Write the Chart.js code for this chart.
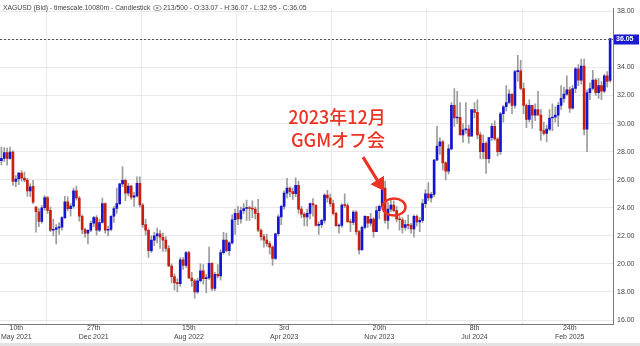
<!DOCTYPE html>
<html><head><meta charset="utf-8">
<script src="https://cdn.jsdelivr.net/npm/chart.js@4.4.1/dist/chart.umd.min.js"></script>
<style>html,body{margin:0;padding:0;background:#fff;overflow:hidden}canvas{display:block}</style>
</head><body>
<canvas id="c" width="640" height="346"></canvas>
<script>
// Weekly XAGUSD candles, week of 10 May 2021 (index 0) to week of 2 Jun 2025 (index 212)
const opens=[27.45,27.36,27.52,27.94,27.51,27.97,25.88,26.05,26.47,26.11,25.97,25.20,25.52,24.05,23.72,23.03,24.00,24.72,23.82,22.40,22.45,22.57,22.62,23.30,24.42,23.93,24.12,25.20,24.70,23.40,22.45,22.20,22.40,22.90,
23.30,22.40,22.95,24.30,22.40,22.45,23.40,23.95,24.30,25.70,25.95,25.05,25.55,24.75,24.85,25.75,24.20,22.80,22.40,20.95,21.70,22.00,22.15,21.90,21.70,21.10,19.85,19.10,18.65,18.60,20.30,19.90,20.80,19.00,18.80,18.00,18.80,19.50,18.95,19.00,20.05,18.25,19.25,19.15,20.80,21.70,20.95,21.50,23.15,23.60,23.20,23.80,
23.95,24.00,23.95,23.90,23.60,22.40,21.95,21.70,21.45,21.20,20.40,22.15,23.35,24.10,25.05,25.40,25.15,25.00,25.60,23.90,23.55,23.35,23.60,24.30,24.20,22.75,22.80,23.10,24.90,24.70,24.30,23.60,22.70,22.75,24.20,24.15,23.00,22.95,23.70,22.30,21.00,22.60,23.40,22.90,23.20,22.30,23.80,24.10,25.40,23.10,23.90,24.20,
23.80,23.20,23.15,22.60,22.80,22.75,22.50,23.40,23.00,23.10,24.30,25.00,24.70,24.95,27.40,28.40,28.70,27.20,26.60,28.20,31.30,30.40,30.45,29.20,29.55,29.60,29.10,31.00,30.80,29.20,28.00,28.60,27.50,29.00,29.80,28.90,28.00,30.70,31.20,31.50,32.10,31.30,33.70,33.75,32.50,31.30,30.30,31.30,30.60,31.00,30.60,29.50,29.30,
29.60,30.40,30.45,30.60,31.30,31.80,32.10,32.40,31.10,32.50,33.90,33.10,34.10,29.60,32.20,32.50,33.10,32.20,32.70,32.30,33.40,33.07];
const highs=[28.33,28.33,28.29,28.26,28.32,28.06,26.30,26.52,26.65,26.55,26.10,25.70,25.95,24.10,23.95,24.15,24.87,24.80,24.05,23.20,22.80,22.95,23.37,24.82,24.78,24.30,25.40,25.55,24.80,23.50,22.55,22.45,23.05,23.40,
23.45,23.20,24.70,24.35,22.70,23.45,24.10,25.40,25.75,26.94,26.05,25.75,25.60,25.10,26.20,26.20,24.30,23.20,22.50,22.00,22.25,22.55,22.40,22.20,21.95,21.30,20.00,19.30,18.95,20.45,20.45,20.90,20.90,19.40,18.90,19.00,20.00,19.95,19.25,21.20,20.10,19.40,19.95,21.00,22.25,22.20,21.60,23.50,23.90,24.10,24.05,24.30,
24.55,24.10,24.50,24.05,24.60,22.50,22.10,22.10,21.60,21.30,22.20,23.50,24.20,25.20,26.10,25.50,25.40,26.14,25.90,24.10,23.65,23.90,24.35,24.65,24.20,23.00,23.20,25.00,25.25,25.00,24.55,23.70,22.85,24.30,25.00,24.30,23.20,23.80,23.80,22.40,22.70,23.45,23.40,23.60,23.30,24.10,24.20,25.50,25.90,24.40,24.60,24.50,
24.10,23.40,23.30,23.10,23.50,22.90,23.50,23.50,23.30,24.60,25.30,25.80,25.10,27.45,29.80,29.00,28.80,27.30,28.50,31.50,32.50,32.30,31.50,30.00,31.50,29.90,31.00,31.50,31.70,29.40,29.20,28.70,29.00,30.00,30.20,29.00,30.80,31.30,32.70,32.40,32.10,33.80,34.87,34.50,32.90,31.40,31.70,31.30,31.40,32.30,31.00,30.10,29.90,
31.00,31.40,31.20,31.50,32.70,32.60,33.40,32.60,32.70,34.00,34.20,34.60,34.60,32.40,32.90,33.80,33.20,33.20,33.00,33.50,33.70,36.07];
const lows=[26.96,27.05,27.30,27.03,27.46,25.60,25.50,25.64,25.90,25.84,24.83,24.80,24.30,22.27,22.65,22.90,23.83,23.60,22.30,22.00,21.42,22.10,22.40,23.20,23.77,23.40,23.95,24.55,23.05,22.15,21.90,21.42,22.30,22.65,
22.05,22.30,22.90,22.20,22.00,22.35,22.95,23.60,24.20,25.50,24.50,24.85,24.60,24.10,24.75,24.05,22.60,22.05,20.46,20.80,21.30,21.50,21.10,20.90,20.90,19.80,18.65,18.15,18.00,18.40,19.60,19.75,18.95,18.40,17.56,17.90,18.70,18.55,17.95,18.90,18.10,18.10,19.00,18.85,20.70,20.85,20.60,21.40,22.10,22.80,22.90,23.60,
23.10,23.10,23.30,23.20,22.30,21.70,21.20,21.25,20.70,19.90,20.30,22.00,22.80,23.90,24.70,24.80,24.60,24.80,23.60,23.30,22.70,22.70,23.20,23.40,22.70,22.10,22.60,22.90,24.40,24.10,23.50,22.70,22.20,22.60,24.00,23.00,22.30,22.80,22.10,20.70,21.00,22.50,22.60,22.70,21.90,22.30,23.20,24.00,22.90,22.50,23.70,23.70,
23.00,22.40,22.20,22.40,22.50,22.20,21.90,22.70,22.30,22.95,24.00,24.50,24.40,24.80,27.40,27.80,26.70,26.00,26.40,28.10,29.80,30.00,29.20,28.65,29.30,28.60,29.10,30.40,28.90,27.50,27.50,26.45,27.20,28.80,28.80,27.70,27.80,30.10,30.90,31.40,30.70,31.10,33.00,32.40,30.70,29.70,30.10,29.65,30.20,30.60,28.80,29.20,28.70,
29.50,29.50,30.10,29.80,31.00,31.50,32.00,30.80,31.00,32.20,32.70,32.80,29.20,28.00,31.70,32.40,32.00,31.80,31.70,32.20,32.60,32.95];
const closes=[27.36,27.52,27.94,27.51,27.97,25.88,26.05,26.47,26.11,25.97,25.20,25.50,24.40,23.72,23.03,24.00,24.72,23.82,22.40,22.45,22.57,22.62,23.30,24.42,23.93,24.12,25.20,24.70,23.40,22.45,22.20,22.40,22.90,23.30,
22.40,22.95,24.30,22.40,22.45,23.40,23.95,24.30,25.70,25.95,25.05,25.55,24.75,24.85,25.75,24.20,22.80,22.40,20.95,21.70,22.00,22.15,21.90,21.70,21.10,19.85,19.10,18.65,18.60,20.30,19.90,20.80,19.00,18.80,18.00,18.80,19.50,18.95,19.00,20.05,18.25,19.25,19.15,20.80,21.70,20.95,21.50,23.15,23.60,23.20,23.80,23.95,
24.00,23.95,23.90,23.60,22.40,21.95,21.70,21.45,21.20,20.40,22.15,23.35,24.10,25.05,25.40,25.15,25.00,25.60,23.90,23.55,23.35,23.60,24.30,24.20,22.75,22.80,23.10,24.90,24.70,24.30,23.60,22.70,22.75,24.20,24.15,23.00,22.95,23.70,22.30,21.00,22.60,23.40,22.90,23.20,22.30,23.80,24.10,25.40,23.10,23.90,24.20,23.80,
23.20,23.15,22.60,22.80,22.75,22.50,23.40,23.00,23.10,24.30,25.00,24.70,24.95,27.40,28.40,28.70,27.20,26.60,28.20,31.30,30.40,30.45,29.20,29.55,29.60,29.10,31.00,30.80,29.20,28.00,28.60,27.50,29.00,29.80,28.90,28.00,30.70,31.20,31.50,32.10,31.30,33.70,33.75,32.50,31.30,30.30,31.30,30.60,31.00,30.60,29.50,29.30,29.60,
30.40,30.45,30.60,31.30,31.80,32.10,32.40,31.10,32.50,33.90,33.10,34.10,29.60,32.20,32.50,33.10,32.20,32.70,32.30,33.40,33.00,36.05];

const tickIndex=[0,33,66,99,132,165,198];
const tickDay=["10th","27th","15th","3rd","20th","8th","24th"];
const tickMonth=["May 2021","Dec 2021","Aug 2022","Apr 2023","Nov 2023","Jul 2024","Feb 2025"];
const lastPrice=36.05;
const titleHead="XAGUSD (Bid) - timescale.10080m - Candlestick";
const titleTail="213/500 - O:33.07 - H:36.07 - L:32.95 - C:36.05";
const noteLines=["2023年12月","GGMオフ会"];
const noteWeek=137.1, notePrice=24.05;

const UP='#1414d2', DOWN='#c8200f', WICK='#9c9c9c', NOTE='#ec3323';
const bodies=opens.map((o,i)=>({x:i,y:[o,closes[i]]}));
const wicks=lows.map((l,i)=>({x:i,y:[l,highs[i]]}));
const bodyColors=opens.map((o,i)=>closes[i]>=o?UP:DOWN);

const overlay={
  id:'overlay',
  afterDraw(chart){
    const {ctx,chartArea:a,scales:{x,y}}=chart;
    ctx.save();
    const yl=Math.round(y.getPixelForValue(lastPrice))+0.5;
    ctx.strokeStyle='#555'; ctx.lineWidth=1; ctx.setLineDash([2,2]);
    ctx.beginPath(); ctx.moveTo(a.left,yl); ctx.lineTo(a.right,yl); ctx.stroke();
    ctx.setLineDash([]);
    ctx.fillStyle='#1a1ad0'; ctx.fillRect(a.right+1,yl-5,25,10);
    ctx.fillStyle='#fff'; ctx.font='bold 7px "Liberation Sans", Arial'; ctx.textBaseline='middle'; ctx.textAlign='left';
    ctx.fillText(lastPrice.toFixed(2),a.right+3,yl);
    ctx.fillStyle='#444'; ctx.font='6.8px "Liberation Sans", Arial'; ctx.textBaseline='middle';
    ctx.fillText(titleHead,3,8);
    let tx=3+ctx.measureText(titleHead).width+3;
    ctx.strokeStyle='#999'; ctx.lineWidth=1;
    ctx.beginPath(); ctx.ellipse(tx+4,8,4,2.6,0,0,Math.PI*2); ctx.stroke();
    ctx.fillStyle='#999'; ctx.beginPath(); ctx.arc(tx+4,8,1.3,0,Math.PI*2); ctx.fill();
    ctx.fillStyle='#444';
    ctx.fillText(titleTail,tx+10,8);
    ctx.fillStyle='#444'; ctx.font='7px "Liberation Sans", Arial'; ctx.textAlign='center';
    tickIndex.forEach((v,i)=>{
      let px=x.getPixelForValue(v);
      const w=Math.max(ctx.measureText(tickDay[i]).width,ctx.measureText(tickMonth[i]).width);
      px=Math.max(px,w/2+1);
      ctx.fillText(tickDay[i],px,a.bottom+4);
      ctx.fillText(tickMonth[i],px,a.bottom+13);
    });
    ctx.fillStyle='#e3e3e3'; ctx.fillRect(0,343,640,3);
    const ex=x.getPixelForValue(noteWeek), ey=y.getPixelForValue(notePrice);
    ctx.strokeStyle=NOTE; ctx.fillStyle=NOTE;
    ctx.lineWidth=2.5;
    ctx.beginPath(); ctx.ellipse(ex,ey,11.5,8.5,0,0,Math.PI*2); ctx.stroke();
    const tipX=ex-10, tipY=ey-16, tailX=ex-31, tailY=ey-50;
    const dx=tipX-tailX, dy=tipY-tailY, L=Math.hypot(dx,dy), ux=dx/L, uy=dy/L;
    const bx=tipX-ux*13, by=tipY-uy*13;
    ctx.lineWidth=3.2; ctx.lineCap='butt';
    ctx.beginPath(); ctx.moveTo(tailX,tailY); ctx.lineTo(bx+ux*2,by+uy*2); ctx.stroke();
    ctx.beginPath(); ctx.moveTo(tipX,tipY); ctx.lineTo(bx-uy*8,by+ux*8); ctx.lineTo(bx+uy*8,by-ux*8); ctx.closePath(); ctx.fill();
    ctx.font='500 18px "Noto Sans CJK JP", sans-serif'; ctx.textAlign='center'; ctx.textBaseline='middle';
    ctx.fillText(noteLines[0],ex-57,ey-90);
    ctx.fillText(noteLines[1],ex-56,ey-67);
    ctx.restore();
  }
};

new Chart(document.getElementById('c'),{
  type:'bar',
  data:{datasets:[
    {data:bodies,backgroundColor:bodyColors,barThickness:2,minBarLength:1,grouped:false,order:0,borderWidth:0},
    {data:wicks,backgroundColor:WICK,barThickness:1,grouped:false,order:1,borderWidth:0}
  ]},
  options:{
    responsive:false,animation:false,devicePixelRatio:1,
    layout:{padding:{top:0,bottom:22,left:0,right:0}},
    plugins:{legend:{display:false},tooltip:{enabled:false}},
    scales:{
      x:{type:'linear',min:0.52,max:213.0,offset:false,
        afterBuildTicks:s=>{s.ticks=tickIndex.map(v=>({value:v}));},
        ticks:{display:false},
        grid:{color:'#e9e9e9',drawTicks:false},
        border:{color:'#7a7a7a'}},
      y:{position:'right',min:15.72,max:38.22,
        afterFit:s=>{s.width=27;},
        ticks:{stepSize:2,includeBounds:false,padding:4,color:'#444',font:{size:7,family:'"Liberation Sans", Arial'},callback:v=>v.toFixed(2)},
        grid:{color:'#e9e9e9',drawTicks:false},
        border:{color:'#7a7a7a'}}
    }
  },
  plugins:[overlay]
});
</script>
</body></html>
